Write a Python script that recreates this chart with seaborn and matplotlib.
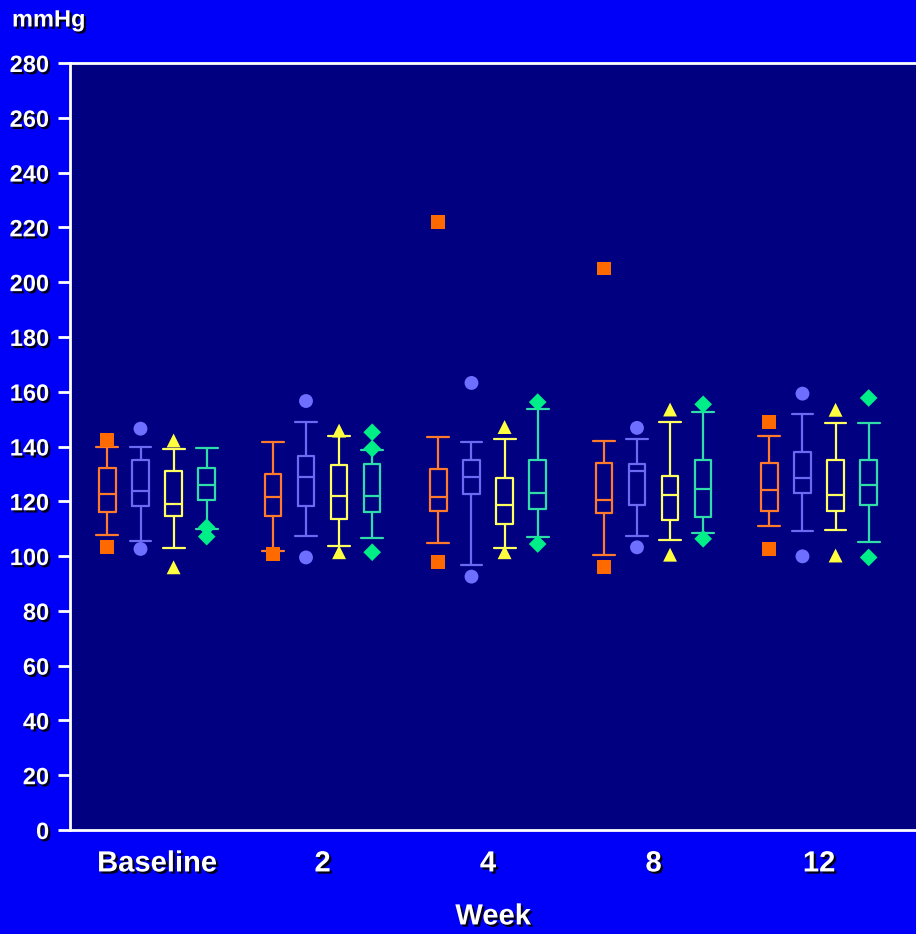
import numpy as np
import pandas as pd
import matplotlib
matplotlib.use("Agg")
import matplotlib.pyplot as plt
import matplotlib.patheffects as pe
from matplotlib import font_manager
import seaborn as sns

# ---------------- data ----------------
weeks = ["Baseline", "2", "4", "8", "12"]
series = ["A", "B", "C", "D"]

# per series, per week: lower whisker, Q1, median, Q3, upper whisker
A_lo  = [107.7, 102.0, 104.8, 100.4, 110.8]
A_q1  = [116.0, 114.8, 116.6, 115.6, 116.4]
A_med = [122.6, 121.7, 121.7, 120.6, 124.3]
A_q3  = [132.1, 129.8, 131.8, 133.9, 133.9]
A_hi  = [139.7, 141.7, 143.4, 141.9, 144.0]

B_lo  = [105.5, 107.5, 96.9, 107.5, 109.0]
B_q1  = [118.4, 118.4, 122.7, 118.6, 123.1]
B_med = [123.9, 128.8, 129.0, 131.2, 128.6]
B_q3  = [135.1, 136.5, 135.1, 133.7, 137.9]
B_hi  = [139.7, 148.8, 141.6, 142.8, 151.8]

C_lo  = [102.8, 103.8, 102.8, 105.9, 109.5]
C_q1  = [114.8, 113.6, 111.7, 113.3, 116.4]
C_med = [119.0, 122.1, 118.6, 122.3, 122.3]
C_q3  = [131.2, 133.1, 128.4, 129.4, 134.9]
C_hi  = [139.0, 144.0, 142.7, 148.9, 148.7]

D_lo  = [109.9, 106.6, 106.9, 108.3, 105.1]
D_q1  = [120.5, 116.0, 117.1, 114.4, 118.8]
D_med = [126.0, 122.1, 123.2, 124.4, 126.1]
D_q3  = [132.2, 133.7, 134.9, 134.9, 134.9]
D_hi  = [139.5, 138.9, 153.8, 152.5, 148.7]

# outlying points (week, value)
A_out_week = ["Baseline", "Baseline", "2", "4", "4", "8", "8", "12", "12"]
A_out_val  = [142.4, 103.2, 100.8, 222.0, 97.7, 205.0, 96.1, 148.9, 102.6]
B_out_week = ["Baseline", "Baseline", "2", "2", "4", "4", "8", "8", "12", "12"]
B_out_val  = [146.5, 102.6, 156.6, 99.5, 163.2, 92.5, 146.8, 103.2, 159.3, 99.9]
C_out_week = ["Baseline", "Baseline", "2", "2", "4", "4", "8", "8", "12", "12"]
C_out_val  = [142.2, 95.9, 145.8, 101.4, 147.1, 101.4, 153.5, 100.5, 153.4, 100.2]
D_out_week = ["Baseline", "Baseline", "2", "2", "2", "4", "4", "8", "8", "12", "12"]
D_out_val  = [110.5, 107.1, 145.2, 139.2, 101.4, 156.2, 104.4, 155.4, 106.3, 157.7, 99.5]

y_ticks = list(range(0, 281, 20))

# ---------------- styles ----------------
line_colors = {"A": "#FF7A2A", "B": "#6A6AF2", "C": "#FFFF60", "D": "#30DCA8"}
mark_colors = {"A": "#FF6A00", "B": "#6E6EFF", "C": "#FFFF40", "D": "#00EE88"}
markers = {"A": "s", "B": "o", "C": "^", "D": "D"}
outer_bg = "#0000F8"
inner_bg = "#000080"

stats = {
    "A": [A_lo, A_q1, A_med, A_q3, A_hi],
    "B": [B_lo, B_q1, B_med, B_q3, B_hi],
    "C": [C_lo, C_q1, C_med, C_q3, C_hi],
    "D": [D_lo, D_q1, D_med, D_q3, D_hi],
}
outs = {
    "A": (A_out_week, A_out_val),
    "B": (B_out_week, B_out_val),
    "C": (C_out_week, C_out_val),
    "D": (D_out_week, D_out_val),
}

rows = []
for s in series:
    for i, w in enumerate(weeks):
        for arr in stats[s]:
            rows.append({"week": w, "series": s, "value": arr[i]})
box_df = pd.DataFrame(rows)

out_rows = []
for s in series:
    for w, v in zip(*outs[s]):
        out_rows.append({"week": w, "series": s, "value": v})
out_df = pd.DataFrame(out_rows)

sns.set_theme(style="white")
available = {f.name for f in font_manager.fontManager.ttflist}
narrow = "Liberation Sans Narrow" in available
fam = (["Liberation Sans Narrow"] if narrow else []) + ["Liberation Sans", "DejaVu Sans"]
plt.rcParams["font.family"] = fam
plt.rcParams["font.weight"] = "bold"

fig = plt.figure(figsize=(9.16, 9.34), dpi=100, facecolor=outer_bg)
ax = fig.add_axes([70 / 916, 104 / 934, 846 / 916, 767 / 934])
ax.set_facecolor(inner_bg)

sns.boxplot(
    data=box_df, x="week", y="value", hue="series",
    order=weeks, hue_order=series, palette=line_colors,
    fill=False, whis=(0, 100), width=0.8, gap=0.5, dodge=True,
    linewidth=1.6, showfliers=False, legend=False, ax=ax,
)

# widen the whisker caps a little beyond the box width
for ln in ax.lines:
    xd = np.asarray(ln.get_xdata(), dtype=float)
    yd = np.asarray(ln.get_ydata(), dtype=float)
    if len(xd) == 2 and yd[0] == yd[1] and abs(xd[1] - xd[0]) < 0.09:
        c = xd.mean()
        ln.set_xdata([c - 0.066, c + 0.066])

for s in series:
    sub = out_df[out_df["series"] == s]
    sns.stripplot(
        data=sub, x="week", y="value", hue="series",
        order=weeks, hue_order=series, palette=mark_colors,
        dodge=True, jitter=False, marker=markers[s], size=10 if s != "D" else 9,
        linewidth=0, legend=False, ax=ax, zorder=5,
    )

ax.set_ylim(0, 280)
ax.set_xlim(-0.526, 4.586)
ax.set_yticks(y_ticks)

shadow = [pe.SimplePatchShadow(offset=(1.6, -1.6), shadow_rgbFace="black", alpha=0.9), pe.Normal()]

ysz = 20 if narrow else 17
xsz = 25 if narrow else 21
ax.set_yticklabels([str(t) for t in y_ticks], fontsize=ysz, color="white",
                   fontweight="bold", path_effects=shadow)
ax.set_xticklabels(weeks, fontsize=xsz, color="white", fontweight="bold",
                   path_effects=shadow)
ax.tick_params(axis="y", length=9, width=2, color="white", pad=6, left=True)
ax.tick_params(axis="x", length=0, pad=14)

ax.set_xlabel("Week", fontsize=xsz, color="white", fontweight="bold",
              path_effects=shadow, labelpad=18)
ax.set_ylabel("")

for side in ["left", "bottom", "top"]:
    ax.spines[side].set_visible(True)
    ax.spines[side].set_color("white")
    ax.spines[side].set_linewidth(2)
ax.spines["right"].set_visible(False)

fig.text(12 / 916, 1 - 20 / 934, "mmHg", fontsize=ysz, color="white",
         fontweight="bold", va="center", ha="left", path_effects=shadow)

fig.savefig("out.png", dpi=100, facecolor=outer_bg)
